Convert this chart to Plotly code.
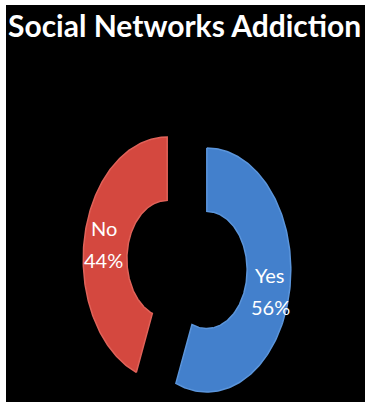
import numpy as np
import plotly.graph_objects as go

# ---- data ----
title_text = "Social Networks Addiction"
labels = ["Yes", "No"]
values = [56, 44]
colors = ["#4380cc", "#d4483f"]
edge_colors = ["#5b95db", "#e06259"]

# ---- style ----
HOLE = 0.48      # inner radius relative to outer
PULL = 0.24      # explode distance (outer radius = 1)
R_LABEL = 0.77   # label radius
FONT = "Lato, Carlito, Calibri, sans-serif"

total = float(sum(values))
fracs = [v / total for v in values]
starts = np.cumsum([0.0] + fracs[:-1]) * 2 * np.pi

fig = go.Figure()
for lab, v, f, s, c, ec in zip(labels, values, fracs, starts, colors, edge_colors):
    th = np.linspace(s, s + f * 2 * np.pi, 160)
    mid = s + f * np.pi
    ox, oy = PULL * np.sin(mid), PULL * np.cos(mid)
    xs = np.concatenate([ox + np.sin(th), ox + HOLE * np.sin(th[::-1]), [ox + np.sin(th[0])]])
    ys = np.concatenate([oy + np.cos(th), oy + HOLE * np.cos(th[::-1]), [oy + np.cos(th[0])]])
    fig.add_trace(go.Scatter(
        x=xs, y=ys, fill="toself", fillcolor=c, mode="lines",
        line=dict(color=ec, width=1.5), name=lab, hoverinfo="name",
    ))
    lx, ly = ox + R_LABEL * np.sin(mid), oy + R_LABEL * np.cos(mid)
    fig.add_annotation(x=lx, y=ly, text=lab, showarrow=False, yshift=13,
                       font=dict(family=FONT, size=20, color="white"))
    fig.add_annotation(x=lx, y=ly, text=f"{v / total * 100:.0f}%", showarrow=False, yshift=-19,
                       font=dict(family=FONT, size=20, color="white"))

fig.add_annotation(
    text=title_text, xref="paper", yref="paper", x=0.497, y=0.9496,
    xanchor="center", yanchor="middle", showarrow=False,
    font=dict(family=FONT, size=30, color="white", weight=700),
)

fig.update_layout(
    width=367, height=402,
    margin=dict(l=6, r=2, t=5, b=0),
    paper_bgcolor="white", plot_bgcolor="black",
    showlegend=False,
    xaxis=dict(range=[-2.1548, 2.119], visible=False, fixedrange=True),
    yaxis=dict(range=[-1.127, 2.127], visible=False, fixedrange=True),
)

fig.write_html("out.html")
